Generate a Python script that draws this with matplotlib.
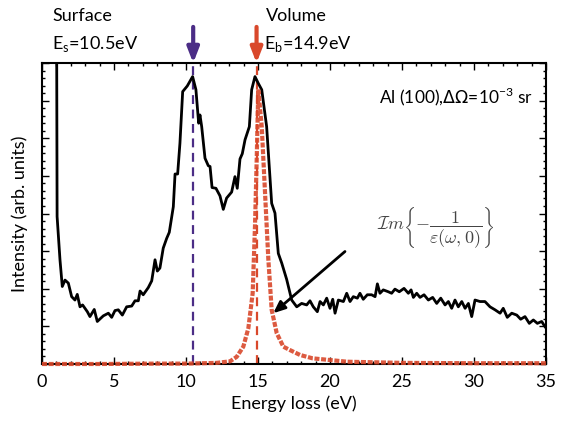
import numpy as np
import matplotlib.pyplot as plt
from matplotlib.ticker import MultipleLocator, NullFormatter

# --- data ---
# measured EELS spectrum (black)
e_spec = [1.02, 1.05, 1.25, 1.41, 1.60, 1.83, 2.06, 2.29, 2.45, 2.64, 2.82, 3.15, 3.33,
          3.63, 3.84, 4.26, 4.61, 4.84, 5.07, 5.30, 5.58, 5.88, 6.23, 6.46, 6.69, 6.81,
          7.03, 7.38, 7.62, 7.85, 8.01, 8.19, 8.42, 8.66, 8.84, 9.12, 9.24, 9.42, 9.58,
          9.77, 10.09, 10.46, 10.69, 10.88, 10.97, 11.09, 11.32, 11.55, 11.67, 11.81,
          12.08, 12.36, 12.59, 12.82, 13.17, 13.40, 13.56, 13.75, 13.91, 14.10, 14.40,
          14.56, 14.79, 15.02, 15.26, 15.60, 15.95, 16.18, 16.41, 16.65, 16.99, 17.34,
          17.69, 18.03, 18.38, 18.61, 18.84, 19.12, 19.31, 19.54, 19.77, 20.00, 20.19,
          20.35, 20.58, 20.93, 21.16, 21.39, 21.62, 21.90, 22.08, 22.31, 22.59, 22.89,
          23.13, 23.29, 23.47, 23.70, 24.05, 24.28, 24.51, 24.81, 25.14, 25.44, 25.63,
          25.79, 26.02, 26.25, 26.53, 26.83, 27.13, 27.41, 27.69, 27.99, 28.22, 28.45,
          28.68, 28.91, 29.15, 29.38, 29.61, 29.84, 30.07, 30.42, 30.76, 31.11, 31.46,
          31.81, 32.03, 32.31, 32.62, 32.97, 33.24, 33.54, 33.84, 34.12, 34.40, 34.70,
          34.93]
i_spec = [8.5, 3.92, 2.77, 2.06, 2.23, 2.15, 1.79, 1.70, 1.85, 1.52, 1.57, 1.39, 1.26,
          1.45, 1.13, 1.28, 1.35, 1.24, 1.42, 1.44, 1.30, 1.52, 1.54, 1.68, 1.68, 1.94,
          1.84, 2.03, 2.21, 2.77, 2.47, 2.55, 3.08, 3.34, 3.50, 4.18, 5.05, 5.05, 5.87,
          7.24, 7.39, 7.64, 7.29, 6.40, 6.62, 6.31, 5.47, 5.27, 5.25, 4.69,
          4.67, 4.47, 4.11, 4.41, 4.57, 4.98, 4.67, 5.45, 5.59, 5.96, 6.31,
          7.29, 7.64, 7.46, 7.29, 6.31, 4.27, 4.01, 2.94, 2.68, 2.25, 1.70,
          1.52, 1.61, 1.57, 1.68, 1.52, 1.39, 1.66, 1.57, 1.75, 1.48, 1.72,
          1.35, 1.70, 1.66, 1.88, 1.66, 1.79, 1.75, 1.88, 1.72, 1.84, 1.84,
          1.79, 2.13, 1.88, 1.97, 1.92, 1.88, 1.99, 1.92, 2.01, 1.88, 1.97,
          1.77, 1.88, 1.77, 1.84, 1.70, 1.77, 1.61, 1.75, 1.57, 1.66, 1.48,
          1.70, 1.52, 1.66, 1.48, 1.61, 1.26, 1.70, 1.66, 1.66, 1.52, 1.44,
          1.35, 1.48, 1.24, 1.35, 1.30, 1.19, 1.26, 1.08, 1.17, 1.08, 1.13,
          0.99]

# loss function Im{-1/eps} (red dotted)
e_loss = [0.0, 4.0, 8.0, 10.0, 11.2, 12.13, 13.06, 13.52, 13.98, 14.33, 14.63, 14.79,
          14.91, 15.02, 15.26, 15.49, 15.72, 15.95, 16.30, 16.76, 17.22, 17.92, 18.8,
          21.2, 25.0, 30.0, 35.0]
i_loss = [0.0, 0.0, 0.01, 0.01, 0.02, 0.03, 0.07, 0.19, 0.46, 0.95, 1.88, 3.65,
          5.43, 7.30, 6.31, 4.54, 2.77, 1.44, 0.82, 0.46, 0.37, 0.24, 0.15,
          0.06, 0.03, 0.02, 0.02]

E_s = 10.5
E_b = 14.9

purple = '#4b2d86'
red = '#d9482b'

plt.rcParams['font.family'] = ['Lato', 'DejaVu Sans']

fig = plt.figure(figsize=(5.65, 4.23), dpi=100)
ax = fig.add_axes([0.0743, 0.1395, 0.8921, 0.7115])

ax.plot(e_spec, i_spec, color='black', lw=2.0, zorder=3)
ax.plot(e_loss, i_loss, color=red, lw=3.0, ls=(0, (1.2, 0.4)), alpha=0.9,
        zorder=4, clip_on=False)

# plasmon positions
ax.axvline(E_s, color=purple, lw=1.6, ls=(0, (4, 2.5)), zorder=2)
ax.axvline(E_b, color=red, lw=1.6, ls=(0, (4, 2.5)), zorder=2)

for xe, c in [(E_s, purple), (E_b, red)]:
    ax.annotate('', xy=(xe, 1.0), xycoords=('data', 'axes fraction'),
                xytext=(xe, 1.12), textcoords=('data', 'axes fraction'),
                arrowprops=dict(arrowstyle='-|>,head_width=0.35,head_length=0.9',
                                color=c, lw=3.0, shrinkA=0, shrinkB=0),
                annotation_clip=False)

ax.text(0.02, 1.14, 'Surface', transform=ax.transAxes, fontsize=13, va='baseline')
ax.text(0.02, 1.045, 'E$_\\mathregular{s}$=10.5eV', transform=ax.transAxes,
        fontsize=13, va='baseline')
ax.text(0.445, 1.14, 'Volume', transform=ax.transAxes, fontsize=13, va='baseline')
ax.text(0.44, 1.045, 'E$_\\mathregular{b}$=14.9eV', transform=ax.transAxes,
        fontsize=13, va='baseline')

ax.text(0.975, 0.865, 'Al (100),$\\Delta\\Omega$=10$^{\\mathregular{-3}}$ sr',
        transform=ax.transAxes, fontsize=12.5, ha='right', va='baseline')

ax.text(0.665, 0.445,
        r'$\mathcal{I}m\left\{-\dfrac{1}{\varepsilon(\omega,0)}\right\}$',
        transform=ax.transAxes, fontsize=13, color='#444444', math_fontfamily='cm')

ax.annotate('', xy=(16.06, 1.35), xytext=(21.04, 2.99),
            arrowprops=dict(arrowstyle='-|>,head_width=0.3,head_length=0.7',
                            color='black', lw=2.0, shrinkA=0, shrinkB=0))

ax.set_xlim(0, 35)
ax.set_ylim(0, 8)
ax.xaxis.set_major_locator(MultipleLocator(5))
ax.xaxis.set_minor_locator(MultipleLocator(1))
ax.yaxis.set_major_locator(MultipleLocator(1))
ax.yaxis.set_minor_locator(MultipleLocator(0.2))
ax.yaxis.set_major_formatter(NullFormatter())
ax.tick_params(which='both', direction='in', top=True, right=True, width=1.0)
ax.tick_params(which='major', length=5, labelsize=13, pad=7)
ax.tick_params(which='minor', length=2.5)
for s in ax.spines.values():
    s.set_linewidth(1.5)

ax.set_xlabel('Energy loss (eV)', fontsize=13, labelpad=4)
ax.set_ylabel('Intensity (arb. units)', fontsize=13, labelpad=3)

fig.savefig('out.png', dpi=100)
